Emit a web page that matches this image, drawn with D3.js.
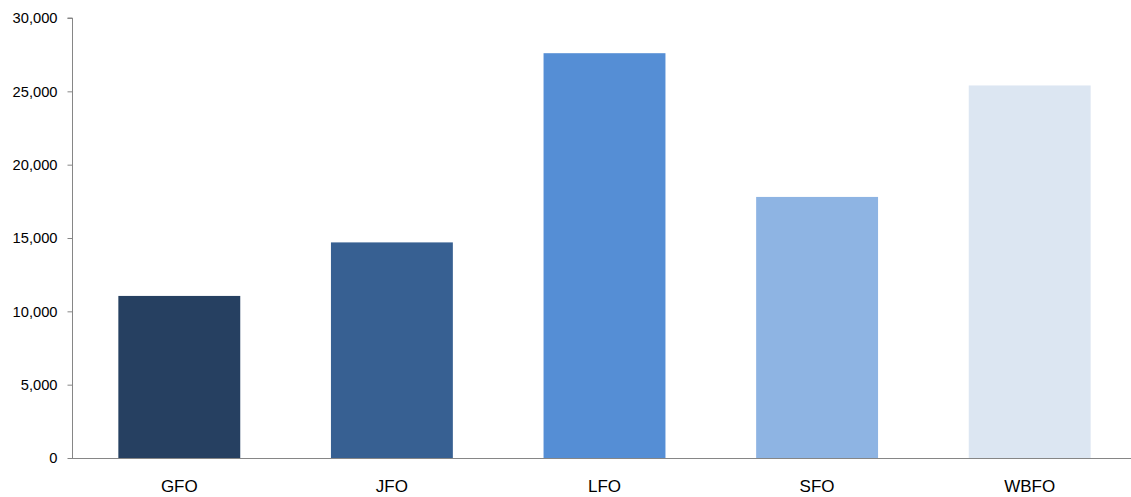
<!DOCTYPE html>
<html>
<head>
<meta charset="utf-8">
<script src="https://cdn.jsdelivr.net/npm/d3@7"></script>
<style>
  html, body { margin: 0; padding: 0; background: #fff; }
  svg { display: block; }
  .axis text { font-family: "Liberation Sans", Arial, sans-serif; fill: #000; }
</style>
</head>
<body>
<svg id="chart" width="1131" height="497"></svg>
<script>
// Offices and their totals
const categories = ["GFO", "JFO", "LFO", "SFO", "WBFO"];
const values = [11050, 14700, 27600, 17800, 25400];
const barColors = ["#264061", "#376092", "#558ED5", "#8EB4E3", "#DCE6F2"];
const yTicks = [0, 5000, 10000, 15000, 20000, 25000, 30000];

const svg = d3.select("#chart");
const plotLeft = 73, plotRight = 1136, plotTop = 18, plotBottom = 458;

const x = d3.scaleBand()
  .domain(categories)
  .range([plotLeft, plotRight])
  .paddingInner(0.4266)
  .paddingOuter(0.2133);

const y = d3.scaleLinear().domain([0, 30000]).range([plotBottom, plotTop]);

// bars
svg.append("g")
  .selectAll("rect")
  .data(categories)
  .join("rect")
  .attr("x", d => x(d))
  .attr("width", x.bandwidth())
  .attr("y", (d, i) => y(values[i]))
  .attr("height", (d, i) => plotBottom - y(values[i]))
  .attr("fill", (d, i) => barColors[i]);

// y axis
const yAxis = svg.append("g")
  .attr("class", "axis")
  .attr("transform", `translate(${plotLeft - 0.5},0)`)
  .call(d3.axisLeft(y).tickValues(yTicks).tickFormat(d3.format(",")).tickSize(5).tickPadding(10));
yAxis.selectAll("text").attr("font-size", null).style("font-size", "14.7px");
yAxis.selectAll("line, path").attr("stroke", "#868686");
yAxis.select(".domain").attr("d", `M-5,${plotTop}H0V${plotBottom}`);

// x axis baseline
svg.append("line")
  .attr("x1", plotLeft - 5).attr("x2", 1131)
  .attr("y1", plotBottom + 0.5).attr("y2", plotBottom + 0.5)
  .attr("stroke", "#868686");

// category labels
svg.append("g")
  .attr("class", "axis")
  .selectAll("text")
  .data(categories)
  .join("text")
  .attr("x", d => x(d) + x.bandwidth() / 2)
  .attr("y", 492)
  .attr("text-anchor", "middle")
  .style("font-size", "17px")
  .text(d => d);
</script>
</body>
</html>
